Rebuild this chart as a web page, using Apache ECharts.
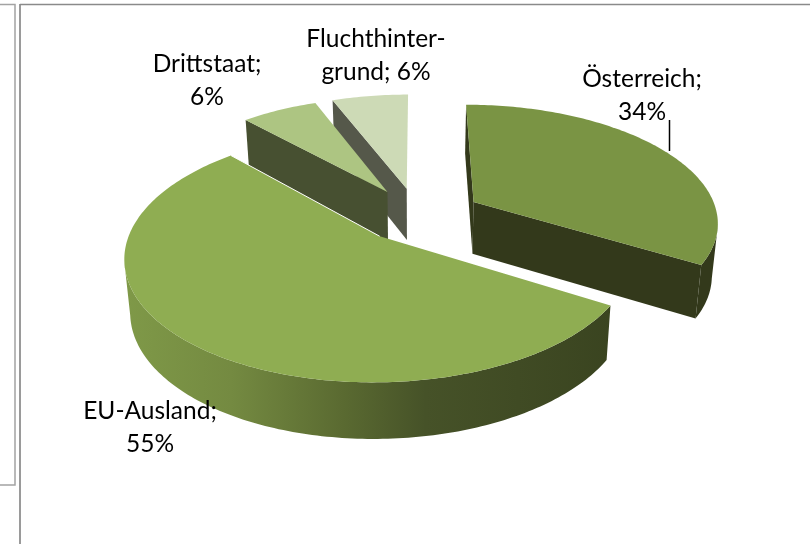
<!DOCTYPE html>
<html>
<head>
<meta charset="utf-8">
<style>html,body{margin:0;padding:0;background:#fff}#c{width:810px;height:544px}</style>
<script src="https://cdn.jsdelivr.net/npm/echarts@6/dist/echarts.min.js"></script>
</head>
<body>
<div id="c"></div>
<script>
const categories = ['Österreich;', 'EU-Ausland;', 'Drittstaat;', 'Fluchthinter-\ngrund;'];
const shares = [34, 55, 6, 6];
const topColors = ['#7a9444', '#8fad52', '#adc582', '#cddab6'];
const wallColors = ['#33391b', '#3b4520', '#475031', '#55584a'];
const drawOrder = [4, 3, 2, 1];
const labelCenters = [[642, 96], [150, 428], [207, 81], [376, 56]];
const explodeSize = [0.26, 0.235, 0.235, 0.235];
const explodeTurn = [4.5, 0, 0, 0];

const view = { cx: 417, cy: 214.5, rx: 244, ry: 116, persp: 0.155, depth: 52, shrink: 0.98, frontLimit: 0.2 };
const total = shares.reduce((a, b) => a + b, 0);

function project(U, V, lower) {
  const s = 1 / (1 - view.persp * V);
  let x = view.cx + view.rx * U * s;
  let y = view.cy + view.ry * V * s;
  if (lower) {
    x = view.cx + (x - view.cx) * view.shrink;
    y = view.cy + (y - view.cy) * view.shrink + view.depth * Math.pow(s, 0.7);
  }
  return [x, y];
}

function renderSlice(params, api) {
  const i = params.dataIndex;
  const before = shares.slice(0, i).reduce((a, b) => a + b, 0);
  const t0 = before / total * 360;
  const t1 = t0 + api.value(0) / total * 360;
  const mid = ((t0 + t1) / 2 + explodeTurn[i]) * Math.PI / 180;
  const ou = explodeSize[i] * Math.sin(mid), ov = -explodeSize[i] * Math.cos(mid);
  const rim = (deg, lower) => {
    const a = deg * Math.PI / 180;
    return project(ou + Math.sin(a), ov - Math.cos(a), lower);
  };
  const apexTop = project(ou, ov, false), apexLow = project(ou, ov, true);
  const angles = [];
  for (let d = t0; d < t1; d += 1) angles.push(d);
  angles.push(t1);

  const z2 = drawOrder[i] * 10;
  const isEU = i === 1;
  const poly = (points, fill, z, stroke) => ({
    type: 'polygon', silent: true, z2: z, shape: { points },
    style: { fill, stroke: stroke || null, lineWidth: stroke ? 0.6 : 0 }
  });
  const children = [];
  if (!isEU) {
    const wall = wallColors[i];
    children.push(poly([apexTop, rim(t0, false), rim(t0, true), apexLow], wall, z2));
    if (Math.sin(t1 * Math.PI / 180) > 0) {
      children.push(poly([apexTop, rim(t1, false), rim(t1, true), apexLow], wall, z2));
    }
  }
  const front = angles.filter(d => -Math.cos(d * Math.PI / 180) >= view.frontLimit);
  if (front.length > 1) {
    const wallFill = isEU
      ? new echarts.graphic.LinearGradient(0, 0, 1, 0, [
          { offset: 0, color: '#7f9948' },
          { offset: 0.22, color: '#748a41' },
          { offset: 0.45, color: '#5a6a31' },
          { offset: 0.62, color: '#465228' },
          { offset: 1, color: '#3a4420' }
        ])
      : wallColors[i];
    const outline = front.map(d => rim(d, false)).concat(front.slice().reverse().map(d => rim(d, true)));
    children.push(poly(outline, wallFill, z2 + 1));
  }
  children.push(poly([apexTop].concat(angles.map(d => rim(d, false))), topColors[i], z2 + 2));
  if (isEU) {
    children.push({
      type: 'polyline', silent: true, z2: z2 + 3,
      shape: { points: [apexTop, rim(t1, false)] },
      style: { stroke: '#ffffff', lineWidth: 1, fill: null }
    });
  }
  const name = categories[i];
  children.push({
    type: 'text', silent: true, z2: 100,
    x: labelCenters[i][0], y: labelCenters[i][1],
    style: {
      text: name + (name.indexOf('\n') >= 0 ? ' ' : '\n') + api.value(0) + '%',
      fill: '#000000', fontFamily: 'Lato', fontSize: 24.5, lineHeight: 33,
      align: 'center', verticalAlign: 'middle'
    }
  });
  return { type: 'group', children };
}

const frameStyle = { stroke: '#9a9a9a', lineWidth: 2 };
const chart = echarts.init(document.getElementById('c'), null, { renderer: 'canvas' });
chart.setOption({
  animation: false,
  backgroundColor: '#ffffff',
  graphic: [
    { type: 'polyline', silent: true, shape: { points: [[0, 4.5], [15, 4.5], [15, 485], [0, 485]] }, style: { stroke: '#a3a3a3', lineWidth: 1.5, fill: null } },
    { type: 'line', silent: true, shape: { x1: 20, y1: 4, x2: 20, y2: 544 }, style: frameStyle },
    { type: 'line', silent: true, shape: { x1: 20, y1: 4.5, x2: 810, y2: 4.5 }, style: { stroke: '#8a8a8a', lineWidth: 1.5 } },
    { type: 'line', silent: true, z: 10, shape: { x1: 669.5, y1: 120, x2: 669.5, y2: 151 }, style: { stroke: '#000000', lineWidth: 1.5 } }
  ],
  series: [{
    type: 'custom',
    coordinateSystem: 'none',
    renderItem: renderSlice,
    data: shares.map(v => [v]),
    animation: false
  }]
});
</script>
</body>
</html>
